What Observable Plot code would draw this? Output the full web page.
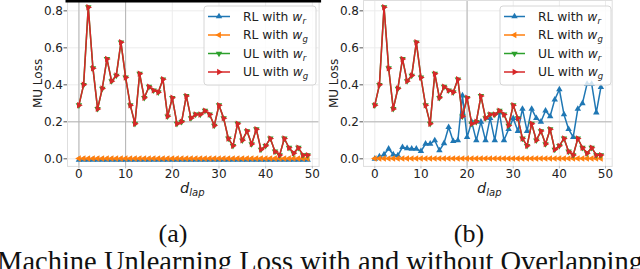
<!DOCTYPE html>
<html><head><meta charset="utf-8">
<script src="https://cdn.jsdelivr.net/npm/d3@7"></script>
<script src="https://cdn.jsdelivr.net/npm/@observablehq/plot@0.6"></script>
<style>
html,body{margin:0;padding:0;background:#fff;overflow:hidden}
#wrap{position:relative;width:640px;height:269px;overflow:hidden;background:#fff}
#wrap > svg{position:absolute;margin:0;overflow:visible}
</style></head><body><div id="wrap"></div>
<script>
// ---------- data ----------
const dLap = [0,1,2,3,4,5,6,7,8,9,10,11,12,13,14,15,16,17,18,19,20,21,22,23,24,25,26,27,28,29,30,31,32,33,34,35,36,37,38,39,40,41,42,43,44,45,46,47,48,49];
const ulWithWr = [0.29,0.40,0.82,0.49,0.27,0.38,0.54,0.42,0.45,0.63,0.44,0.29,0.19,0.46,0.33,0.39,0.37,0.36,0.43,0.23,0.33,0.19,0.20,0.34,0.22,0.24,0.24,0.26,0.24,0.18,0.29,0.22,0.11,0.07,0.19,0.10,0.15,0.08,0.16,0.05,0.07,0.11,0.04,0.02,0.11,0.06,0.03,0.06,0.02,0.02];
const ulWithWg = [0.29,0.40,0.82,0.49,0.27,0.38,0.54,0.42,0.45,0.63,0.44,0.29,0.19,0.46,0.33,0.39,0.37,0.36,0.43,0.23,0.33,0.19,0.20,0.34,0.22,0.24,0.24,0.26,0.24,0.18,0.29,0.22,0.11,0.07,0.19,0.10,0.15,0.08,0.16,0.05,0.07,0.11,0.04,0.02,0.11,0.06,0.03,0.06,0.02,0.02];
const rlWithWrA = [-0.006,-0.006,-0.006,-0.006,-0.006,-0.006,-0.006,-0.006,-0.006,-0.006,-0.006,-0.006,-0.006,-0.006,-0.006,-0.006,-0.006,-0.006,-0.006,-0.006,-0.006,-0.006,-0.006,-0.006,-0.006,-0.006,-0.006,-0.006,-0.006,-0.006,-0.006,-0.006,-0.006,-0.006,-0.006,-0.006,-0.006,-0.006,-0.006,-0.006,-0.006,-0.006,-0.006,-0.006,-0.006,-0.006,-0.006,-0.006,-0.006,-0.006];
const rlWithWgA = [0.002,0.002,0.002,0.002,0.002,0.002,0.002,0.002,0.002,0.002,0.002,0.002,0.002,0.002,0.002,0.002,0.002,0.002,0.002,0.002,0.002,0.002,0.002,0.002,0.002,0.002,0.002,0.002,0.002,0.002,0.002,0.002,0.002,0.002,0.002,0.002,0.002,0.002,0.002,0.002,0.002,0.002,0.002,0.002,0.002,0.002,0.002,0.002,0.002,0.002];
const rlWithWrB = [0.00,0.012,0.023,0.054,0.023,0.018,0.063,0.057,0.054,0.054,0.041,0.081,0.081,0.099,0.045,0.084,0.171,0.095,0.099,0.342,0.117,0.20,0.10,0.20,0.10,0.22,0.10,0.25,0.10,0.16,0.22,0.15,0.27,0.15,0.27,0.22,0.20,0.26,0.23,0.32,0.375,0.24,0.16,0.117,0.27,0.30,0.405,0.405,0.25,0.387];
const rlWithWgB = [0.002,0.002,0.002,0.002,0.002,0.002,0.002,0.002,0.002,0.002,0.002,0.002,0.002,0.002,0.002,0.002,0.002,0.002,0.002,0.002,0.002,0.002,0.002,0.002,0.002,0.002,0.002,0.002,0.002,0.002,0.002,0.002,0.002,0.002,0.002,0.002,0.002,0.002,0.002,0.002,0.002,0.002,0.002,0.002,0.002,0.002,0.002,0.002,0.002,0.002];
const xTicks = [0,10,20,30,40,50];
const yTicks = [0.0,0.2,0.4,0.6,0.8];
const seriesPrefix = ["RL with ","RL with ","UL with ","UL with "];
const seriesSub = ["r","g","r","g"];
const captions = ["(a)","(b)"];
const titleText = "Machine Unlearning Loss with and without Overlapping";

// ---------- styles ----------
const colors = ["#1f77b4","#ff7f0e","#2ca02c","#d62728"];
const rotations = [0,-90,180,90]; // ^  <  v  >
const markerR = 2.4;

function buildRows(arrs){
  const rows = [];
  arrs.forEach((arr, s) => arr.forEach((v, i) => rows.push({x: dLap[i], y: v, s})));
  return rows;
}

function chart(arrs, opt){
  const rows = buildRows(arrs);
  const marks = [
    Plot.gridX(xTicks, {stroke:"#ececec", strokeOpacity:1}),
    Plot.gridY(yTicks, {stroke:"#ececec", strokeOpacity:1}),
    Plot.gridX(opt.strongX, {stroke:"#b4b4b4", strokeOpacity:1}),
    Plot.gridY(opt.strongY, {stroke:"#b4b4b4", strokeOpacity:1}),
    Plot.frame({stroke:"#dedede"}),
    Plot.axisX(xTicks, {tickSize:2.5, tickPadding:0.5, stroke:"#bbb", label:null, fill:"#222"}),
    Plot.axisY(yTicks, {tickSize:3.5, tickPadding:1, stroke:"#555", tickFormat: d3.format(".1f"), fill:"#222",
      label:"MU Loss", labelAnchor:"center", labelOffset:34, labelArrow:"none"})
  ];
  if (opt.topRule) marks.push(Plot.frame({anchor:"top", stroke:"#000", strokeWidth:4}));
  for (let s = 0; s < 4; s++) {
    const d = rows.filter(r => r.s === s);
    marks.push(Plot.line(d, {x:"x", y:"y", stroke:colors[s], strokeWidth:1.5}));
    marks.push(Plot.dot(d, {x:"x", y:"y", symbol:"triangle", r:markerR, fill:colors[s], rotate:rotations[s]}));
  }
  return Plot.plot({
    width: 320, height: 200,
    marginLeft: opt.ml, marginRight: opt.mr, marginTop: 0, marginBottom: 34.1,
    x: {domain:[-2.45, 51.45]},
    y: {domain:[-0.041, 0.856]},
    style: {fontFamily:"'DejaVu Sans', sans-serif", fontSize:"12px", color:"#222", background:"transparent", overflow:"visible"},
    marks
  });
}

const wrap = document.getElementById("wrap");
const a = chart([rlWithWrA, rlWithWgA, ulWithWr, ulWithWg], {ml:67, mr:1.4, strongX:[0,10], strongY:[0.2], topRule:true});
a.style.left = "0px"; a.style.top = "0px";
wrap.appendChild(a);
const b = chart([rlWithWrB, rlWithWgB, ulWithWr, ulWithWg], {ml:43, mr:28.3, strongX:[20], strongY:[0.2], topRule:false});
b.style.left = "320px"; b.style.top = "0px";
wrap.appendChild(b);

// ---------- overlay: legends, x labels, captions, title ----------
const ov = d3.select(wrap).append("svg").attr("width",640).attr("height",269).style("left","0px").style("top","0px");

function legend(box, lx0, lx1, tx, rowY){
  const g = ov.append("g");
  g.append("rect").attr("x",box[0]).attr("y",box[1]).attr("width",box[2]).attr("height",box[3])
    .attr("rx",3).attr("fill","#fff").attr("fill-opacity",0.8).attr("stroke","#d6d6d6");
  for (let s = 0; s < 4; s++) {
    const y = rowY[s];
    g.append("line").attr("x1",lx0).attr("x2",lx1).attr("y1",y).attr("y2",y).attr("stroke",colors[s]).attr("stroke-width",1.5);
    g.append("path").attr("d", d3.symbol(d3.symbolTriangle, markerR*markerR*Math.PI)())
      .attr("transform",`translate(${(lx0+lx1)/2},${y}) rotate(${rotations[s]})`).attr("fill",colors[s]);
    const t = g.append("text").attr("x",tx).attr("y",y+4.4)
      .attr("font-family","'DejaVu Sans', sans-serif").attr("font-size","12.3px").attr("fill","#222");
    t.append("tspan").text(seriesPrefix[s]);
    t.append("tspan").attr("font-style","italic").text("w");
    t.append("tspan").attr("font-style","italic").attr("font-size","8.5px").attr("dy",3).text(seriesSub[s]);
  }
}
legend([204,6,112,79], 208, 230, 243, [16.5,35,53.5,72]);
legend([500,6,111,79], 504, 525, 538, [16.5,35,53.5,72]);

function xlabel(x){
  const t = ov.append("text").attr("x",x).attr("y",193)
    .attr("font-family","'DejaVu Sans', sans-serif").attr("fill","#222");
  t.append("tspan").attr("font-style","italic").attr("font-size","14.5px").text("d");
  t.append("tspan").attr("font-style","italic").attr("font-size","10px").attr("dy",3).text("lap");
}
xlabel(180); xlabel(477);

[[173, captions[0]], [469, captions[1]]].forEach(([x, s]) => {
  ov.append("text").attr("x",x).attr("y",242).attr("text-anchor","middle")
    .attr("font-family","'Liberation Serif', serif").attr("font-size","26px").attr("fill","#111").text(s);
});
ov.append("text").attr("x",320).attr("y",271).attr("text-anchor","middle")
  .attr("font-family","'Liberation Serif', serif").attr("font-size","28.5px").attr("fill","#111").text(titleText);
</script></body></html>
